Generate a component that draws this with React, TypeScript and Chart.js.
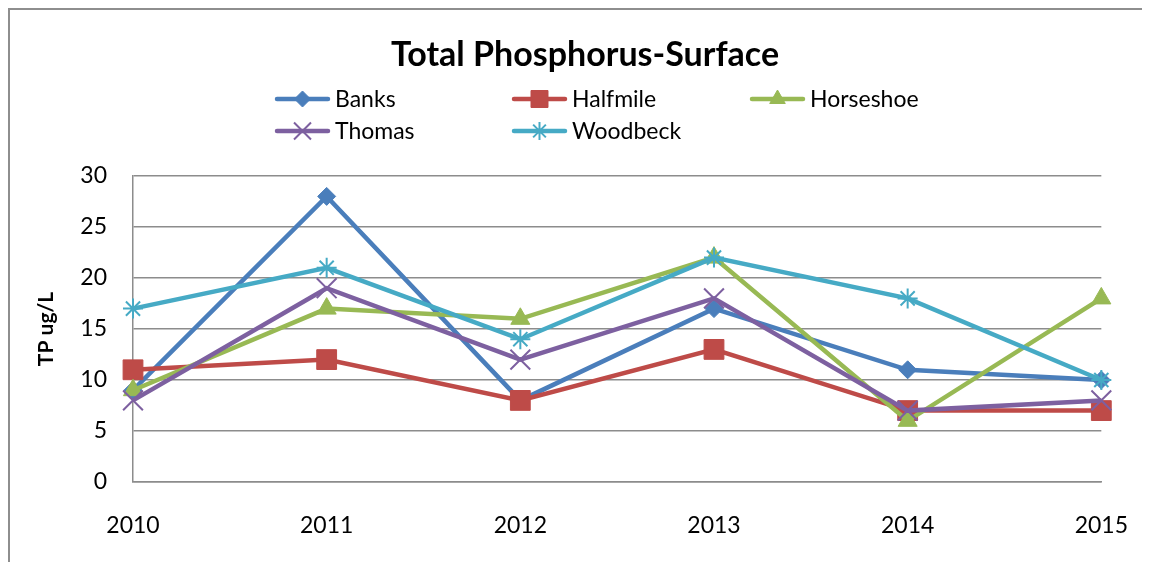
import React, { useEffect, useRef } from 'react';
import { Chart, registerables } from 'chart.js';
import { drawPoint } from 'chart.js/helpers';

Chart.register(...registerables);

// ---- data ----
const years = ['2010', '2011', '2012', '2013', '2014', '2015'];
const seriesNames = ['Banks', 'Halfmile', 'Horseshoe', 'Thomas', 'Woodbeck'];
const banks = [9, 28, 8, 17, 11, 10];
const halfmile = [11, 12, 8, 13, 7, 7];
const horseshoe = [9, 17, 16, 22, 6, 18];
const thomas = [8, 19, 12, 18, 7, 8];
const woodbeck = [17, 21, 14, 22, 18, 10];
const yTicks = [0, 5, 10, 15, 20, 25, 30];
const chartTitle = 'Total Phosphorus-Surface';
const yTitle = 'TP ug/L';

// ---- styles ----
const FONT = 'Lato';
const gridColor = '#8c8c8c';
const seriesStyles = [
  { color: '#4A7EBB', pointStyle: 'rectRot', radius: 9, legendRadius: 8, pbw: 1 },
  { color: '#BE4B48', pointStyle: 'rect', radius: 14, legendRadius: 12, pbw: 1 },
  { color: '#98B954', pointStyle: 'triangle', radius: 11, legendRadius: 9, pbw: 1 },
  { color: '#7D60A0', pointStyle: 'crossRot', radius: 14, legendRadius: 12, pbw: 2 },
  { color: '#46AAC5', pointStyle: 'star', radius: 10, legendRadius: 9, pbw: 2 },
];

const headerPlugin = {
  id: 'header',
  afterDraw(chart: any) {
    const ctx = chart.ctx;
    ctx.save();
    ctx.fillStyle = '#000';
    ctx.font = `bold 34px ${FONT}`;
    ctx.textAlign = 'center';
    ctx.textBaseline = 'alphabetic';
    ctx.fillText(chartTitle, 575, 56);

    const cols = [265, 502, 740];
    const rows = [89, 121];
    chart.data.datasets.forEach((ds: any, i: number) => {
      const st = seriesStyles[i];
      const x = cols[i % 3];
      const y = rows[Math.floor(i / 3)];
      ctx.strokeStyle = st.color;
      ctx.fillStyle = st.color;
      ctx.lineWidth = 4.5;
      ctx.lineCap = 'round';
      ctx.beginPath();
      ctx.moveTo(x + 2, y);
      ctx.lineTo(x + 53, y);
      ctx.stroke();
      ctx.lineCap = 'butt';
      ctx.lineWidth = st.pbw;
      drawPoint(ctx, { pointStyle: st.pointStyle, radius: st.legendRadius, rotation: 0, borderWidth: st.pbw } as any, x + 27.5, y);
      ctx.fillStyle = '#000';
      ctx.font = `23px ${FONT}`;
      ctx.textAlign = 'left';
      ctx.textBaseline = 'middle';
      ctx.fillText(ds.label, x + 60, y + 1);
    });
    ctx.restore();
  },
};

export default function App() {
  const ref = useRef<HTMLCanvasElement>(null);
  useEffect(() => {
    document.body.style.overflow = 'hidden';
    const seriesValues = [banks, halfmile, horseshoe, thomas, woodbeck];
    const chart = new Chart(ref.current!, {
      type: 'line',
      data: {
        labels: years,
        datasets: seriesNames.map((name, i) => ({
          label: name,
          data: seriesValues[i],
          borderColor: seriesStyles[i].color,
          backgroundColor: seriesStyles[i].color,
          pointBackgroundColor: seriesStyles[i].color,
          pointBorderColor: seriesStyles[i].color,
          pointStyle: seriesStyles[i].pointStyle as any,
          pointRadius: seriesStyles[i].radius,
          pointBorderWidth: seriesStyles[i].pbw,
          borderWidth: 4.5,
          tension: 0,
          fill: false,
          clip: false as any,
          order: seriesNames.length - i,
        })),
      },
      options: {
        animation: false,
        responsive: false,
        events: [],
        layout: { padding: { top: 166, right: 44, left: 0, bottom: 0 } },
        plugins: {
          legend: { display: false },
          title: { display: false },
          tooltip: { enabled: false },
        },
        scales: {
          x: {
            offset: false,
            grid: { display: false },
            border: { display: true, color: gridColor, width: 1.5 },
            ticks: { font: { family: FONT, size: 23 }, color: '#000', padding: 22, maxRotation: 0 },
            afterFit: (s: any) => { s.height = 80; },
          },
          y: {
            min: 0,
            max: 30,
            grid: { color: gridColor, lineWidth: 1.5, drawTicks: false },
            border: { display: true, color: gridColor, width: 1.5 },
            ticks: { font: { family: FONT, size: 23 }, color: '#000', padding: 26 },
            afterBuildTicks: (s: any) => { s.ticks = yTicks.map((v) => ({ value: v })); },
            afterFit: (s: any) => { s.width = 123; },
            title: {
              display: true,
              text: yTitle,
              color: '#000',
              font: { family: FONT, size: 21, weight: 'bold' },
              padding: { top: 24, bottom: 0 },
            },
          },
        },
      },
      plugins: [headerPlugin],
    });
    return () => chart.destroy();
  }, []);

  return (
    <div
      style={{
        width: 1142,
        height: 554,
        boxSizing: 'border-box',
        borderTop: '2px solid #8e8e8e',
        borderLeft: '2px solid #8e8e8e',
        background: '#fff',
      }}
    >
      <canvas ref={ref} width={1140} height={552} style={{ display: 'block', width: 1140, height: 552 }} />
    </div>
  );
}
